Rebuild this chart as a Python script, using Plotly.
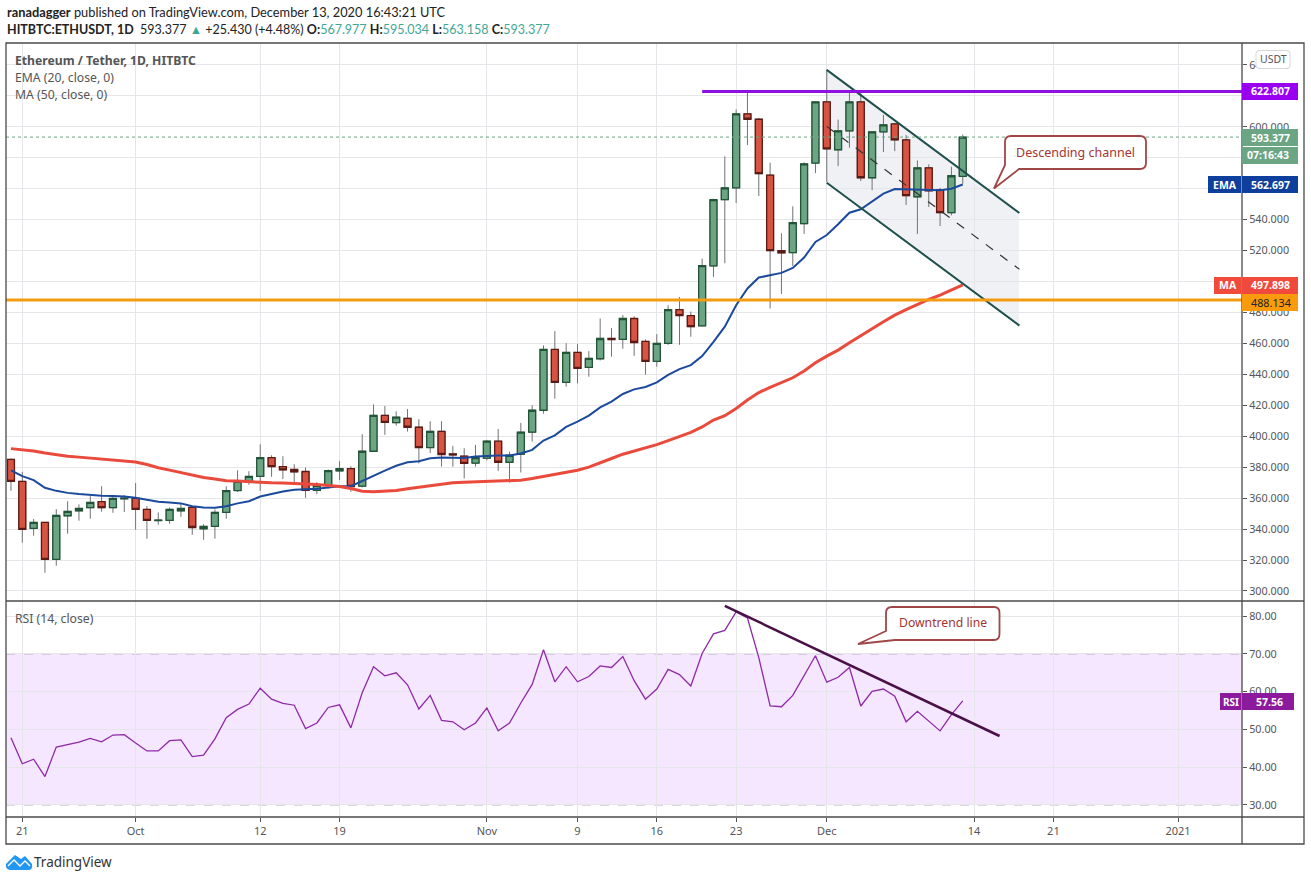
import pandas as pd
import plotly.graph_objects as go

W, H = 1311, 881

# Candles, Sep 20 to Dec 13 2020
first_day = "2020-09-20"
opens = [385, 370.8, 340.4, 344.3, 320.4, 348.6, 351.8, 353.8, 357.8, 353.8, 359.6, 359.8, 352.7, 345.5, 345.6,
         351.8, 354, 340.2, 341.7, 350.8, 364.9, 370.5, 374, 386.2, 380.4, 378.5, 377.2, 365, 368.2, 377.6, 379.1,
         367.7, 390.3, 413.5, 408.8, 411.6, 405.8, 392.7, 403.2, 388.6, 387.1, 382.6, 385.8, 396.8, 383.2, 388.4,
         402.6, 416.8, 456.1, 434.8, 454.2, 444.5, 450.1, 463.2, 462.6, 476.1, 461.3, 448.4, 460, 481.9, 478,
         471.4, 510.1, 552.9, 560.6, 608.4, 604.9, 568.8, 520, 518.7, 537.4, 576.6, 616.1, 585.2, 597.4, 616.1,
         567.1, 596.8, 601.9, 591.6, 554.8, 573.5, 559.4, 544.5, 567.977]
highs = [385.6, 377, 346.5, 344.3, 352.9, 358, 356, 361.3, 367.7, 360.9, 362, 369.7, 354.8, 350.8, 354,
         356.6, 354.8, 343.2, 352.7, 367.7, 378, 377.4, 394.8, 387.7, 387.1, 381.9, 379.8, 370.3, 378.5, 383.9, 380.6,
         401.3, 420.6, 419.6, 416.1, 417.6, 411, 409.7, 409.7, 393.8, 392.3, 394.4, 397.6, 404.7, 390, 408.6,
         420, 458.7, 468, 460.2, 459.6, 455, 476.1, 469.9, 478.3, 477.6, 462.6, 466, 484.7, 490, 480.6,
         514.8, 553.5, 580.9, 611.2, 623, 605.8, 576.8, 531.2, 548.6, 577, 616.1, 637, 604.7, 623, 622,
         596.8, 607.7, 602.6, 594.8, 578.3, 575.7, 560.6, 574.2, 595.034]
lows = [364.7, 331.2, 335.7, 311.8, 316.3, 337, 345.4, 346.7, 351.2, 350.5, 351, 339.6, 333.8, 342.8, 343.4,
        348, 336.3, 333.1, 333.8, 346.7, 364, 368.6, 364.7, 373.8, 372.3, 370, 360.2, 362.6, 366.2, 371.6, 364.1,
        366.9, 390, 400.9, 406.9, 403, 382.4, 389.2, 380.4, 380.4, 372.7, 380.4, 384.3, 377.6, 370.1, 376.6,
        396.6, 414.6, 424.3, 432, 434.2, 438.5, 449, 451.4, 456.6, 452, 439.8, 444.9, 459, 459.1, 464.3,
        471, 503, 511.8, 550.8, 588.2, 555.3, 482.6, 492, 510.1, 530.8, 570.1, 564.3, 574.6, 586.5, 565,
        559.1, 583.7, 584.3, 549.5, 530.8, 548.2, 535.9, 542.8, 563.158]
closes = [370.8, 339.8, 344.3, 320.4, 348.8, 351.4, 353.3, 357.2, 353.8, 359.8, 360, 352.7, 345.6, 345.8, 352.7,
          353.3, 341, 341.7, 350.8, 364.9, 370.8, 374, 386.2, 380.4, 378.3, 377, 365, 368.2, 377.8, 379.1, 367.5,
          390.3, 413.5, 409, 412.3, 405.8, 392.7, 403.2, 388.2, 387.9, 382.4, 386.2, 396.8, 383.2, 387.7, 402.6,
          416.8, 456.1, 434.8, 454.2, 443.9, 450.3, 463.2, 462.5, 476.1, 460.6, 448.4, 460, 481.9, 478, 470.8,
          510.3, 552.9, 560.6, 608.4, 604.9, 569.7, 520, 518.5, 538.1, 576.1, 616.1, 585.8, 597.4, 616.1, 567.1,
          596.8, 601.3, 591.6, 555.5, 573.5, 558.7, 544.5, 568.4, 593.377]

ema20 = [378, 374.2, 371.6, 366.7, 364.7, 363.4, 362.6, 361.9, 361.5, 361.3, 361.1, 360.2, 358.7, 357.6, 357.2,
         356.6, 354.8, 354, 353.8, 354.8, 356.6, 358, 361, 362.8, 364.3, 365.4, 365.6, 366, 366.9, 367.7, 367.7,
         371.2, 374.8, 377.8, 380.9, 383.2, 383.9, 385.8, 386.2, 386.2, 386, 386.9, 387.3, 387.5, 387.5, 388.8,
         391.2, 397.2, 400.6, 406, 409.5, 413.3, 418.7, 422.4, 427.3, 430.3, 431.8, 434.8, 439.6, 443.4, 446,
         451.8, 461, 470.8, 484.7, 495.5, 502.6, 504, 505.6, 508.8, 515.5, 525.6, 530.1, 537, 544.5, 546.7,
         552, 556.8, 559.8, 559.6, 559.6, 559.6, 559, 560, 562.697]
ma50 = [392, 391.4, 390.5, 389.2, 388, 387.1, 386.5, 385.8, 385.2, 384.5, 384.1, 383.4, 381.7, 379.6, 378.1,
        376.6, 374.8, 373.3, 372.3, 371.2, 371, 370.5, 370.1, 369.9, 369.7, 369.5, 369.2, 368.8, 368.2, 367.5, 366.2,
        364.5, 364.1, 364.3, 364.9, 366, 366.9, 368, 369, 369.9, 370.3, 370.5, 370.8, 371, 371, 371.6,
        372.7, 374, 375, 376.3, 378, 380, 382.6, 385.6, 388.4, 390.5, 392.3, 394.6, 397.2, 399.6, 402.5,
        406, 410.5, 413.3, 418, 423.4, 428.2, 431.6, 434.6, 437.8, 442.2, 447.5, 451.8, 455.7, 460.4, 464.7,
        469.5, 474, 478.3, 481.9, 485.4, 488.4, 491.2, 494.4, 497.898]
rsi14 = [47.8, 40.9, 42.1, 37.5, 45.3, 46, 46.6, 47.6, 46.7, 48.5, 48.6, 46.4, 44.3, 44.3, 47,
         47.2, 42.8, 43.2, 47.5, 53.1, 55.3, 56.7, 60.9, 58, 56.9, 56.4, 50.2, 51.7, 55.8, 56.5, 50.4,
         59.7, 66.6, 64.2, 65, 61.8, 55.4, 59, 52.4, 52, 49.9, 51.7, 55.7, 49.6, 51.7, 57,
         61.9, 71.1, 62.6, 66.6, 62.6, 64, 66.8, 66.4, 69.3, 62.9, 58, 60.7, 65.9, 64.5, 61.5,
         70.1, 75.3, 76.2, 81.1, 79.5, 69, 56.2, 56, 59, 64.1, 69.5, 62.5, 63.8, 66.4, 56.2,
         60.1, 60.7, 58.8, 52, 54.8, 52.2, 49.6, 53.9, 57.56]

# axis ticks
date_ticks = ["2020-09-21", "2020-10-01", "2020-10-12", "2020-10-19", "2020-11-01", "2020-11-09", "2020-11-16",
              "2020-11-23", "2020-12-01", "2020-12-14", "2020-12-21", "2021-01-01"]
date_labels = ["21", "Oct", "12", "19", "Nov", "9", "16", "23", "Dec", "14", "21", "2021"]
price_ticks = list(range(300, 641, 20))
covered_prices = [500, 560, 580, 620]  # sit completely behind the value tags
rsi_ticks = [30, 40, 50, 60, 70, 80]

# drawn levels / trend lines
resistance = 622.807
support = 488.134
last_price = 593.377
channel_days = ["2020-12-01", "2020-12-18"]
channel_upper = [636.8, 544.3]
channel_lower = [563.9, 471.5]
channel_mid = [600.3, 507.9]
downtrend_days = ["2020-11-22", "2020-12-16 06:00"]
downtrend_rsi = [82.7, 48.25]

days = pd.date_range(first_day, periods=len(closes), freq="D")
body_high = [max(o, c) for o, c in zip(opens, closes)]
body_low = [min(o, c) for o, c in zip(opens, closes)]

UP, DOWN = "#6ba583", "#d75442"
UP_EDGE, DOWN_EDGE = "#225437", "#5b1a13"
WICK = "#737375"
GRID = "#e6e6ea"
BORDER = "#4a4a4a"
FONT = "Noto Sans"


def px(x):
    return x / W


def py(y):
    return 1 - y / H


def pts(points):
    # pixel points to an svg path in paper coordinates
    out = []
    for cmd, x, y in points:
        out.append(f"{cmd}{px(x):.5f},{py(y):.5f}")
    return " ".join(out) + " Z"


def round_box(x0, y0, x1, y1, r):
    return (f"M{px(x0+r):.5f},{py(y0):.5f} L{px(x1-r):.5f},{py(y0):.5f} "
            f"Q{px(x1):.5f},{py(y0):.5f} {px(x1):.5f},{py(y0+r):.5f} "
            f"L{px(x1):.5f},{py(y1-r):.5f} Q{px(x1):.5f},{py(y1):.5f} {px(x1-r):.5f},{py(y1):.5f} "
            f"L{px(x0+r):.5f},{py(y1):.5f} Q{px(x0):.5f},{py(y1):.5f} {px(x0):.5f},{py(y1-r):.5f} "
            f"L{px(x0):.5f},{py(y0+r):.5f} Q{px(x0):.5f},{py(y0):.5f} {px(x0+r):.5f},{py(y0):.5f} Z")


fig = go.Figure()

# wicks first, then bodies on top so the wick stays grey and the edge stays dark
fig.add_trace(go.Candlestick(x=days, open=opens, high=highs, low=lows, close=closes, xaxis="x", yaxis="y",
                             increasing=dict(line=dict(color=WICK, width=1), fillcolor=UP),
                             decreasing=dict(line=dict(color=WICK, width=1), fillcolor=DOWN),
                             whiskerwidth=0, showlegend=False))
fig.add_trace(go.Candlestick(x=days, open=opens, high=body_high, low=body_low, close=closes, xaxis="x", yaxis="y",
                             increasing=dict(line=dict(color=UP_EDGE, width=1.3), fillcolor=UP),
                             decreasing=dict(line=dict(color=DOWN_EDGE, width=1.3), fillcolor=DOWN),
                             whiskerwidth=0, showlegend=False))
fig.add_trace(go.Scatter(x=days, y=ema20, mode="lines", line=dict(color="#1b4a9c", width=2), showlegend=False,
                         xaxis="x", yaxis="y"))
fig.add_trace(go.Scatter(x=days, y=ma50, mode="lines", line=dict(color="#ea4a3c", width=3), showlegend=False,
                         xaxis="x", yaxis="y"))
fig.add_trace(go.Scatter(x=days, y=rsi14, mode="lines", line=dict(color="#8e2aa6", width=1.3), showlegend=False,
                         xaxis="x2", yaxis="y2"))

shapes = []
# RSI band
shapes.append(dict(type="rect", xref="x2 domain", x0=0, x1=1, yref="y2", y0=30, y1=70, layer="below",
                   fillcolor="rgba(165,40,255,0.11)", line_width=0))
for lvl in [30, 70]:
    shapes.append(dict(type="line", xref="x2 domain", x0=0, x1=1, yref="y2", y0=lvl, y1=lvl, layer="below",
                       line=dict(color="#a79ab5", width=1, dash="dash")))
# channel fill
shapes.append(dict(type="path", xref="paper", yref="paper", layer="below", line_width=0, fillcolor="#f0f1f4",
                   path=pts([("M", 826.5, 70), ("L", 1019, 213), ("L", 1019, 326), ("L", 826.5, 183)])))
# channel lines
for ys, dash in [(channel_upper, "solid"), (channel_lower, "solid"), (channel_mid, "dash")]:
    shapes.append(dict(type="line", xref="x", yref="y", x0=channel_days[0], x1=channel_days[1], y0=ys[0], y1=ys[1],
                       line=dict(color="#1f4f4c" if dash == "solid" else "#333333", width=2 if dash == "solid" else 1.2,
                                 dash=dash)))
shapes.append(dict(type="line", xref="x", yref="y", x0="2020-11-20", x1="2021-01-06 15:30", y0=resistance, y1=resistance,
                   line=dict(color="#9010e0", width=3)))
shapes.append(dict(type="line", xref="x domain", yref="y", x0=0, x1=1, y0=support, y1=support,
                   line=dict(color="#f39c12", width=3)))
shapes.append(dict(type="line", xref="x domain", yref="y", x0=0, x1=1, y0=last_price, y1=last_price,
                   line=dict(color="#6ba583", width=1, dash="dot")))
shapes.append(dict(type="line", xref="x2", yref="y2", x0=downtrend_days[0], x1=downtrend_days[1],
                   y0=downtrend_rsi[0], y1=downtrend_rsi[1], line=dict(color="#4a1048", width=2.5)))

# panel frame
shapes.append(dict(type="rect", xref="paper", yref="paper", x0=px(6), x1=px(1304), y0=py(844), y1=py(43),
                   line=dict(color=BORDER, width=1.3)))
for y in [601, 817]:
    shapes.append(dict(type="line", xref="paper", yref="paper", x0=px(6), x1=px(1304), y0=py(y), y1=py(y),
                       line=dict(color=BORDER, width=1.3)))
shapes.append(dict(type="line", xref="paper", yref="paper", x0=px(1242), x1=px(1242), y0=py(844), y1=py(43),
                   line=dict(color=BORDER, width=1.3)))

# callouts
callout = "#a04646"
shapes.append(dict(type="path", xref="paper", yref="paper", fillcolor="white", line=dict(color=callout, width=1.8),
                   path=f"M{px(1011):.5f},{py(136):.5f} L{px(1140):.5f},{py(136):.5f} Q{px(1146):.5f},{py(136):.5f} {px(1146):.5f},{py(142):.5f} "
                        f"L{px(1146):.5f},{py(163):.5f} Q{px(1146):.5f},{py(169):.5f} {px(1140):.5f},{py(169):.5f} "
                        f"L{px(1019):.5f},{py(169):.5f} L{px(994):.5f},{py(188.5):.5f} L{px(1005):.5f},{py(165):.5f} "
                        f"L{px(1005):.5f},{py(142):.5f} Q{px(1005):.5f},{py(136):.5f} {px(1011):.5f},{py(136):.5f} Z"))
shapes.append(dict(type="path", xref="paper", yref="paper", fillcolor="white", line=dict(color=callout, width=1.8),
                   path=f"M{px(892):.5f},{py(607):.5f} L{px(994):.5f},{py(607):.5f} Q{px(999.5):.5f},{py(607):.5f} {px(999.5):.5f},{py(613):.5f} "
                        f"L{px(999.5):.5f},{py(634):.5f} Q{px(999.5):.5f},{py(640):.5f} {px(994):.5f},{py(640):.5f} "
                        f"L{px(895):.5f},{py(640):.5f} L{px(858):.5f},{py(644):.5f} L{px(886):.5f},{py(631):.5f} "
                        f"L{px(886):.5f},{py(613):.5f} Q{px(886):.5f},{py(607):.5f} {px(892):.5f},{py(607):.5f} Z"))

# price scale tags: left, top, right, bottom, colour
tags = [(1242, 83, 1298, 100, "#9a00f0"), (1242, 129, 1298, 146, "#6ba583"), (1242, 147, 1298, 164, "#6ba583"),
        (1208, 176, 1241, 193, "#0f3f9c"), (1242, 176, 1298, 193, "#0f3f9c"),
        (1214, 277, 1241, 294, "#ef4a3c"), (1242, 277, 1298, 294, "#ef4a3c"), (1242, 294, 1298, 311, "#f99b0c"),
        (1220, 693, 1241, 710, "#8c1a9c"), (1242, 693, 1294, 710, "#8c1a9c")]
for x0, y0, x1, y1, c in tags:
    shapes.append(dict(type="rect", xref="paper", yref="paper", x0=px(x0), x1=px(x1), y0=py(y1), y1=py(y0),
                       fillcolor=c, line_width=0))
# USDT button
shapes.append(dict(type="path", xref="paper", yref="paper", fillcolor="white", line=dict(color="#d6d6d6", width=1),
                   path=round_box(1256, 50.5, 1290, 68.5, 3)))
# logo
shapes.append(dict(type="path", xref="paper", yref="paper", fillcolor="#2196f3", line_width=0,
                   path=f"M{px(10):.5f},{py(870):.5f} Q{px(5):.5f},{py(869):.5f} {px(6):.5f},{py(864):.5f} "
                        f"L{px(15):.5f},{py(855):.5f} L{px(21):.5f},{py(859):.5f} L{px(25):.5f},{py(856):.5f} "
                        f"L{px(32):.5f},{py(864):.5f} Q{px(33):.5f},{py(870):.5f} {px(28):.5f},{py(870):.5f} Z"))
shapes.append(dict(type="path", xref="paper", yref="paper", line=dict(color="white", width=1.3),
                   path=f"M{px(8):.5f},{py(866):.5f} L{px(14):.5f},{py(860):.5f} L{px(20):.5f},{py(866):.5f} L{px(25):.5f},{py(861):.5f} L{px(30):.5f},{py(866):.5f}"))

TEAL = "#3fa796"
annos = [
    (5, 12, "<b>ranadagger</b> published on TradingView.com, December 13, 2020 16:43:21 UTC", 12.8, "#222222", "left", "Lato"),
    (5, 29, f"<b>HITBTC:ETHUSDT, 1D</b>  593.377 <span style='color:{TEAL}'>▲</span> +25.430 (+4.48%) "
            f"<b>O:</b><span style='color:{TEAL}'>567.977</span> <b>H:</b><span style='color:{TEAL}'>595.034</span> "
            f"<b>L:</b><span style='color:{TEAL}'>563.158</span> <b>C:</b><span style='color:{TEAL}'>593.377</span>",
     12.5, "#222222", "left", "Lato"),
    (13, 60, "<b>Ethereum / Tether, 1D, HITBTC</b>", 12.2, "#555555", "left", FONT),
    (13, 78, "EMA (20, close, 0)", 12.2, "#555555", "left", FONT),
    (13, 95, "MA (50, close, 0)", 12.2, "#555555", "left", FONT),
    (13, 618, "RSI (14, close)", 12.2, "#555555", "left", FONT),
    (1273, 59.5, "USDT", 10.5, "#555555", "center", FONT),
    (1270.5, 91.5, "<b>622.807</b>", 10.5, "white", "center", FONT),
    (1270.5, 137.5, "<b>593.377</b>", 10.5, "white", "center", FONT),
    (1268, 155.5, "<b>07:16:43</b>", 10.5, "white", "center", FONT),
    (1225, 184.5, "<b>EMA</b>", 10.5, "white", "center", FONT),
    (1270.5, 184.5, "<b>562.697</b>", 10.5, "white", "center", FONT),
    (1228, 285.5, "<b>MA</b>", 10.5, "white", "center", FONT),
    (1270.5, 285.5, "<b>497.898</b>", 10.5, "white", "center", FONT),
    (1270.5, 302.5, "488.134", 10.8, "#222222", "center", FONT),
    (1231, 701.5, "<b>RSI</b>", 10, "white", "center", FONT),
    (1269, 701.5, "<b>57.56</b>", 10.5, "white", "center", FONT),
    (1075.5, 152, "Descending channel", 12.5, "#a5342f", "center", FONT),
    (943, 622.5, "Downtrend line", 12.2, "#a5342f", "center", FONT),
    (32, 862, "TradingView", 13.5, "#333333", "left", FONT),
]
annotations = [dict(xref="paper", yref="paper", x=px(x), y=py(y), text=t, showarrow=False, xanchor=a, yanchor="middle",
                    font=dict(family=f, size=s, color=c)) for x, y, t, s, c, a, f in annos]

x_range = ["2020-09-19 13:30", "2021-01-06 15:30"]
axis_common = dict(type="date", range=x_range, tickvals=date_ticks, showgrid=True, gridcolor=GRID, gridwidth=1,
                   zeroline=False, showline=False, rangeslider=dict(visible=False),
                   domain=[px(6), px(1242)])

fig.update_layout(
    width=W, height=H, autosize=False,
    margin=dict(l=0, r=0, t=0, b=0),
    paper_bgcolor="white", plot_bgcolor="white",
    font=dict(family=FONT, size=12, color="#555555"),
    showlegend=False,
    boxgap=0.12,
    xaxis=dict(axis_common, anchor="y", ticktext=[""] * len(date_labels), ticks=""),
    xaxis2=dict(axis_common, anchor="y2", ticktext=date_labels, ticks="outside", ticklen=4, tickcolor="#555555",
                tickfont=dict(size=11, color="#555555")),
    yaxis=dict(domain=[py(601), py(43)], range=[293.5, 654.2], side="right", anchor="x", tickvals=price_ticks,
               ticktext=["" if v in covered_prices else f"{v:.3f}" for v in price_ticks],
               ticks="outside", ticklen=4, tickcolor="#555555",
               showgrid=True, gridcolor=GRID, zeroline=False, showline=False, tickfont=dict(size=10.8, color="#555555")),
    yaxis2=dict(domain=[py(817), py(601)], range=[26.8, 84], side="right", anchor="x2", tickvals=rsi_ticks,
                ticktext=[f"{v:.2f}" for v in rsi_ticks], ticks="outside", ticklen=4, tickcolor="#555555",
                showgrid=True, gridcolor=GRID, zeroline=False, showline=False, tickfont=dict(size=10.8, color="#555555")),
    shapes=shapes,
    annotations=annotations,
)

# page body margin would shift everything by 8px
fig.write_html("out.html", config={"displayModeBar": False}, post_script="document.body.style.margin='0';")
